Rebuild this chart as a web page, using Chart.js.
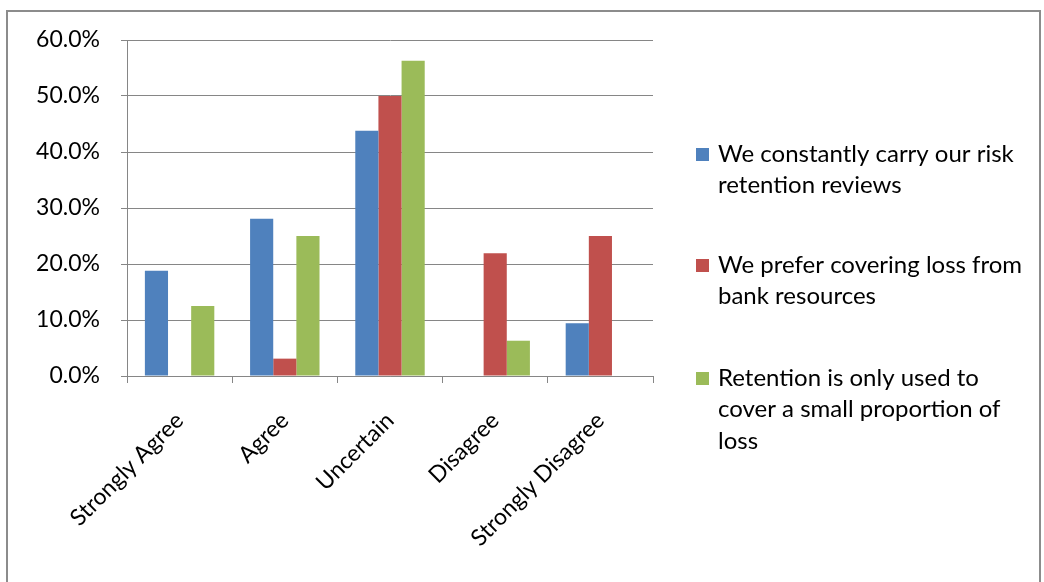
<!DOCTYPE html>
<html>
<head>
<meta charset="utf-8">
<script src="https://cdn.jsdelivr.net/npm/chart.js@4.4.1/dist/chart.umd.min.js"></script>
<style>
  html, body { margin: 0; padding: 0; background: #fff; }
  #wrap { width: 1044px; height: 582px; }
</style>
</head>
<body>
<div id="wrap"><canvas id="chart" width="1044" height="582"></canvas></div>
<script>
// ============================================================
//  Risk retention survey — grouped bars by response
// ============================================================

var categories = ['Strongly Agree', 'Agree', 'Uncertain', 'Disagree', 'Strongly Disagree'];

// percent of respondents per answer
var reviewsSeries   = [18.8, 28.1, 43.8, 0, 9.4];
var bankLossSeries  = [0, 3.1, 50.0, 21.9, 25.0];
var smallLossSeries = [12.5, 25.0, 56.3, 6.3, 0];

// legend text, one entry per line
var reviewsLabel   = ['We constantly carry our risk', 'retention reviews'];
var bankLossLabel  = ['We prefer covering loss from', 'bank resources'];
var smallLossLabel = ['Retention is only used to', 'cover a small proportion of', 'loss'];

var yTicks = [0, 10, 20, 30, 40, 50, 60];

var FONT = 'Lato, "DejaVu Sans", sans-serif';
var AXIS = '#868686';

// outer frame + legend on the right, drawn by hand so long labels can wrap
var frameAndLegend = {
  id: 'frameAndLegend',
  afterDraw: function (chart) {
    var ctx = chart.ctx;
    ctx.save();
    ctx.strokeStyle = '#8c8c8c';
    ctx.lineWidth = 2;
    ctx.strokeRect(7, 11, 1033, 600);

    var entryTop = [154, 265, 378];
    var lineH = 31.5;
    ctx.font = '24px ' + FONT;
    ctx.textBaseline = 'middle';
    ctx.textAlign = 'left';
    chart.data.datasets.forEach(function (ds, i) {
      var y = entryTop[i];
      ctx.fillStyle = ds.backgroundColor;
      ctx.fillRect(696, y - 6, 13, 13);
      ctx.fillStyle = '#000';
      ds.legendLines.forEach(function (t, k) {
        ctx.fillText(t, 718, y + k * lineH);
      });
    });
    ctx.restore();
  }
};

new Chart(document.getElementById('chart'), {
  type: 'bar',
  data: {
    labels: categories,
    datasets: [
      { label: reviewsLabel.join(' '),   legendLines: reviewsLabel,   data: reviewsSeries,   backgroundColor: '#4F81BD' },
      { label: bankLossLabel.join(' '),  legendLines: bankLossLabel,  data: bankLossSeries,  backgroundColor: '#C0504D' },
      { label: smallLossLabel.join(' '), legendLines: smallLossLabel, data: smallLossSeries, backgroundColor: '#9BBB59' }
    ]
  },
  plugins: [frameAndLegend],
  options: {
    responsive: false,
    devicePixelRatio: 1,
    animation: false,
    datasets: {
      bar: { categoryPercentage: 0.66, barPercentage: 1, borderWidth: 0 }
    },
    layout: { padding: { left: 0, top: 40, right: 391, bottom: 0 } },
    plugins: {
      legend:  { display: false },
      tooltip: { enabled: false }
    },
    scales: {
      x: {
        grid:   { drawOnChartArea: false, drawTicks: true, tickLength: 7, color: AXIS, offset: true },
        border: { display: true, color: AXIS, width: 1 },
        ticks: {
          color: '#000',
          font: { family: FONT, size: 23 },
          minRotation: 45,
          maxRotation: 45,
          padding: 24,
          autoSkip: false
        },
        afterFit: function (scale) { scale.height = 206; }
      },
      y: {
        min: 0,
        max: 60,
        afterBuildTicks: function (scale) {
          scale.ticks = yTicks.map(function (v) { return { value: v }; });
        },
        grid:   { color: AXIS, tickLength: 6, drawTicks: true },
        border: { display: true, color: AXIS, width: 1 },
        ticks: {
          color: '#000',
          font: { family: FONT, size: 23 },
          padding: 21,
          callback: function (v) { return v.toFixed(1) + '%'; }
        },
        afterFit: function (scale) { scale.width = 127; }
      }
    }
  }
});
</script>
</body>
</html>
